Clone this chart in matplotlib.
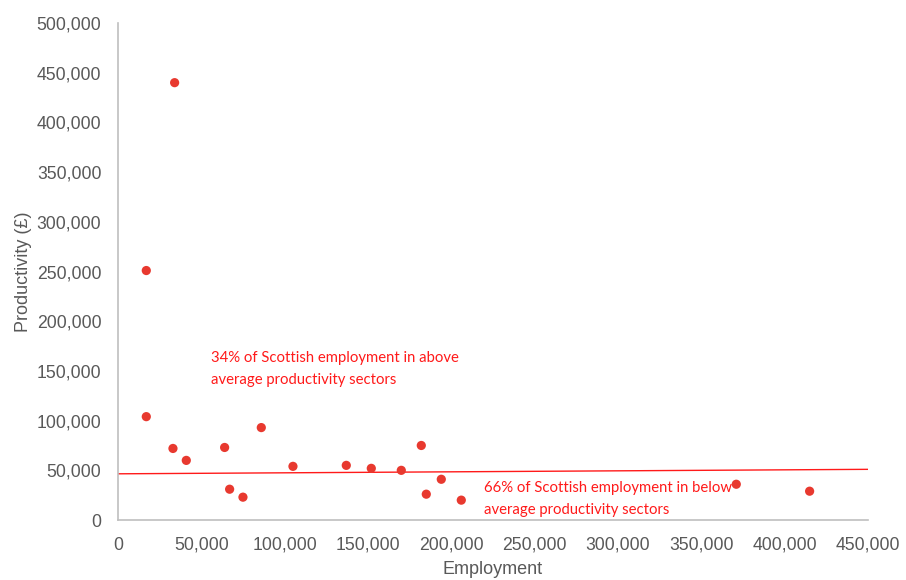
import matplotlib.pyplot as plt
from matplotlib.ticker import FuncFormatter

# Employment and productivity by sector
employment = [34000, 17000, 17000, 33000, 41000, 64000, 67000, 75000, 86000, 105000,
              137000, 152000, 170000, 182000, 185000, 194000, 206000, 371000, 415000]
productivity = [440000, 251000, 104000, 72000, 60000, 73000, 31000, 23000, 93000, 54000,
                55000, 52000, 50000, 75000, 26000, 41000, 20000, 36000, 29000]

# Average productivity line endpoints
avg_x = [0, 450000]
avg_y = [46500, 51000]

above_note = "34% of Scottish employment in above\naverage productivity sectors"
below_note = "66% of Scottish employment in below\naverage productivity sectors"

grey = "#595959"
red = "#e8392f"

fig = plt.figure(figsize=(9.06, 5.8), dpi=100)
ax = fig.add_axes([0.1302, 0.1034, 0.8278, 0.8569])

ax.plot(avg_x, avg_y, color="#ff1a1a", linewidth=1.0, zorder=2)
ax.scatter(employment, productivity, s=44, color=red, edgecolors="none", zorder=3)

ax.text(55800, 152000, above_note, color="#ff1a1a", fontsize=10.7, family="Lato",
        va="center", ha="left", linespacing=1.75)
ax.text(219500, 21500, below_note, color="#ff1a1a", fontsize=10.7, family="Lato",
        va="center", ha="left", linespacing=1.75)

ax.set_xlim(0, 450000)
ax.set_ylim(0, 500000)
ax.set_xticks(range(0, 450001, 50000))
ax.set_yticks(range(0, 500001, 50000))
fmt = FuncFormatter(lambda v, p: f"{int(v):,}")
ax.xaxis.set_major_formatter(fmt)
ax.yaxis.set_major_formatter(fmt)

for side in ["top", "right"]:
    ax.spines[side].set_visible(False)
for side in ["left", "bottom"]:
    ax.spines[side].set_color("#bfbfbf")
    ax.spines[side].set_linewidth(1.2)

ax.tick_params(length=0, labelsize=12.7, colors=grey)
ax.tick_params(axis="x", pad=12)
ax.tick_params(axis="y", pad=12)
for lbl in ax.get_xticklabels() + ax.get_yticklabels():
    lbl.set_family("Liberation Sans")

ax.set_xlabel("Employment", fontsize=13, color=grey, family="Liberation Sans", labelpad=5)
ax.set_ylabel("Productivity (£)", fontsize=13, color=grey, family="Liberation Sans", labelpad=3)

fig.savefig("out.png", dpi=100)
